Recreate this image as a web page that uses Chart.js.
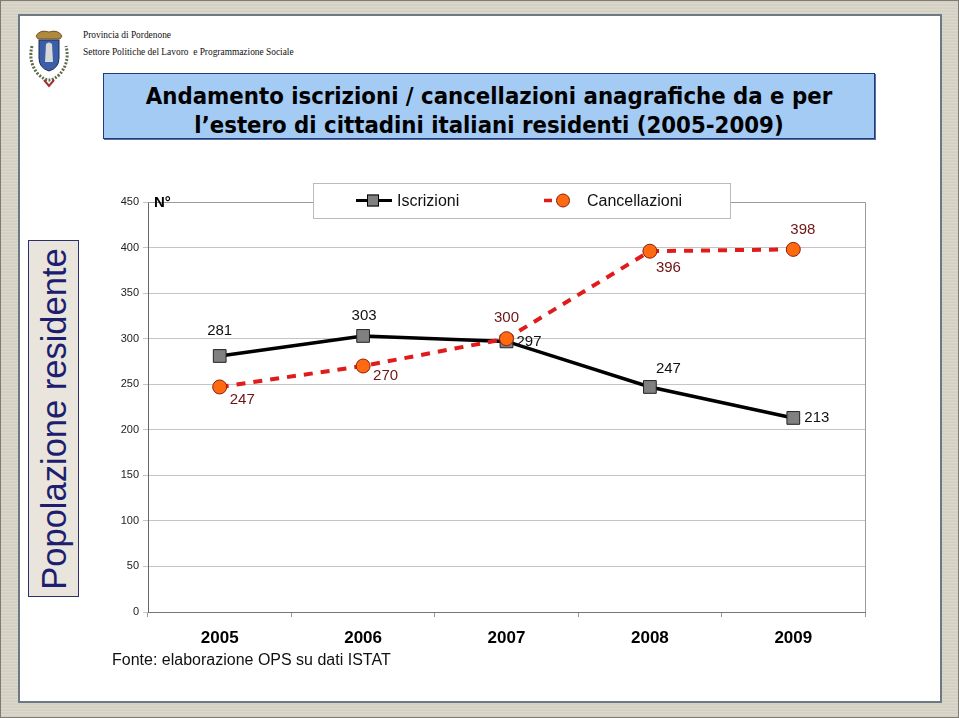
<!DOCTYPE html>
<html><head><meta charset="utf-8">
<script src="https://cdn.jsdelivr.net/npm/chart.js@4.4.1/dist/chart.umd.min.js"></script>
<style>
html,body{margin:0;padding:0;}
body{width:959px;height:718px;position:relative;overflow:hidden;
 background:repeating-linear-gradient(180deg,#dcd9cc 0px,#dcd9cc 1px,#cfccbf 2px,#d7d4c7 3px);}
#frame{position:absolute;left:0;top:0;width:957px;height:716px;border:1px solid #7c7c74;}
#panel{position:absolute;left:18px;top:14px;width:920px;height:685px;background:#fff;border:2px solid #6d7a86;}
.hdr{position:absolute;font-family:"Liberation Serif","DejaVu Serif",serif;font-size:9.4px;color:#111;white-space:nowrap;}
#title{position:absolute;left:103px;top:73px;width:772px;height:66px;background:#a4cbf4;border:1px solid #203a80;
 box-shadow:1px 1px 0 #5a6e9a;font-family:"DejaVu Sans Condensed","DejaVu Sans",sans-serif;font-weight:bold;font-size:23.7px;
 line-height:29px;text-align:center;color:#000;padding-top:8px;box-sizing:border-box;}
#ylab{position:absolute;left:28px;top:240px;width:51px;height:357px;background:#e9e5dc;border:1px solid #2c2f6e;box-sizing:border-box;}
#ylab span{position:absolute;left:50%;top:50%;transform:translate(-50%,-50%) rotate(-90deg);white-space:nowrap;
 font-family:"Liberation Sans",Arial,sans-serif;font-size:34.5px;color:#1e1e70;}
#wrap{position:absolute;left:90px;top:180px;width:800px;height:480px;}
#fonte{position:absolute;left:112px;top:651px;font-family:"Liberation Sans",Arial,sans-serif;font-size:16px;color:#111;white-space:nowrap;}
</style></head>
<body>
<div id="frame"></div>
<div id="panel"></div>
<svg style="position:absolute;left:24px;top:28px" width="50" height="62" viewBox="0 0 50 62">
 <path d="M12 8 Q16 1 25 4 Q34 1 38 8 L36 11 L14 11 Z" fill="#b08a3a" stroke="#5a4020" stroke-width="0.8"/>
 <path d="M15 12 H35 V30 Q35 40 25 43 Q15 40 15 30 Z" fill="#3a5fa8" stroke="#1c2c58" stroke-width="1"/>
 <path d="M22 16 Q25 13 28 16 L29 34 H21 Z" fill="#d8d8d8"/>
 <path d="M8 18 Q4 34 14 46 Q20 52 25 52 Q30 52 36 46 Q46 34 42 18" fill="none" stroke="#5d6d4a" stroke-width="3" stroke-dasharray="2,1.5"/>
 <path d="M20 52 L25 58 L30 52" fill="none" stroke="#a03030" stroke-width="2"/>
</svg>
<div class="hdr" style="left:83px;top:30px">Provincia di Pordenone</div>
<div class="hdr" style="left:83px;top:47px">Settore Politiche del Lavoro&nbsp; e Programmazione Sociale</div>
<div id="title">Andamento iscrizioni / cancellazioni anagrafiche da e per<br>l’estero di cittadini italiani residenti (2005-2009)</div>
<div id="ylab"><span>Popolazione residente</span></div>
<div id="wrap"><canvas id="c"></canvas></div>
<div id="fonte">Fonte: elaborazione OPS su dati ISTAT</div>
<script>
const categories = ['2005','2006','2007','2008','2009'];
const iscrizioni = [281, 303, 297, 247, 213];
const cancellazioni = [247, 270, 300, 396, 398];
const yTicks = [0,50,100,150,200,250,300,350,400,450];
const seriesNames = ['Iscrizioni','Cancellazioni'];

// label placement per point (style only)
const placeIsc = [[0,-25],[1,-20],[10,0,'left'],[6,-18,'left'],[11,0,'left']];
const placeCan = [[10,13,'left'],[10,10,'left'],[0,-21],[6,17,'left'],[-3,-20,'left']];

const labelPlugin = {
  id:'labels',
  afterDatasetsDraw(chart){
    const ctx = chart.ctx;
    ctx.save();
    ctx.font = '15px "Liberation Sans", Arial, sans-serif';
    ctx.textBaseline = 'middle';
    const sets = [[0,iscrizioni,placeIsc,'#111'],[1,cancellazioni,placeCan,'#6e1414']];
    sets.forEach(([di,vals,pl,col])=>{
      const meta = chart.getDatasetMeta(di);
      meta.data.forEach((pt,i)=>{
        const p = pl[i];
        ctx.fillStyle = col;
        ctx.textAlign = p[2] || 'center';
        ctx.fillText(String(vals[i]), pt.x + p[0], pt.y + p[1]);
      });
    });
    ctx.restore();
  }
};

const framePlugin = {
  id:'frame',
  beforeDatasetsDraw(chart){
    const {ctx, chartArea:a} = chart;
    ctx.save();
    ctx.strokeStyle = '#9a9a9a'; ctx.lineWidth = 1;
    ctx.beginPath();
    ctx.moveTo(a.left, a.top+0.5); ctx.lineTo(a.right+0.5, a.top+0.5); ctx.lineTo(a.right+0.5, a.bottom);
    ctx.stroke();
    ctx.fillStyle = '#000';
    ctx.font = 'bold 15px "Liberation Sans", Arial, sans-serif';
    ctx.textAlign='left'; ctx.textBaseline='middle';
    ctx.fillText('N°', a.left+6, a.top+1);
    ctx.restore();
  },
  afterDraw(chart){
    const {ctx, chartArea:a} = chart;
    ctx.save();
    const bx = a.left+165, by = a.top-19, bw = 417, bh = 35;
    ctx.fillStyle='#fff'; ctx.fillRect(bx,by,bw,bh);
    ctx.strokeStyle='#bbbbbb'; ctx.lineWidth=1; ctx.strokeRect(bx+0.5,by+0.5,bw,bh);
    const cy = by + bh/2;
    // Iscrizioni
    ctx.strokeStyle='#000'; ctx.lineWidth=3;
    ctx.beginPath(); ctx.moveTo(bx+43,cy); ctx.lineTo(bx+79,cy); ctx.stroke();
    ctx.fillStyle='#808080'; ctx.strokeStyle='#000'; ctx.lineWidth=1;
    ctx.fillRect(bx+54,cy-6,12,12); ctx.strokeRect(bx+54.5,cy-5.5,11,11);
    ctx.fillStyle='#111'; ctx.font='16px "Liberation Sans", Arial, sans-serif';
    ctx.textAlign='left'; ctx.textBaseline='middle';
    ctx.fillText(seriesNames[0], bx+84, cy+1);
    // Cancellazioni
    ctx.strokeStyle='#e01b1b'; ctx.lineWidth=3.5;
    ctx.beginPath(); ctx.moveTo(bx+231,cy); ctx.lineTo(bx+239,cy); ctx.stroke();
    ctx.fillStyle='#ff6a10'; ctx.strokeStyle='#8a1e10'; ctx.lineWidth=1;
    ctx.beginPath(); ctx.arc(bx+250,cy,6.5,0,Math.PI*2); ctx.fill(); ctx.stroke();
    ctx.fillStyle='#111';
    ctx.fillText(seriesNames[1], bx+274, cy+1);
    ctx.restore();
  }
};

new Chart(document.getElementById('c'), {
  type:'line',
  data:{
    labels:categories,
    datasets:[
      {label:seriesNames[0], data:iscrizioni, borderColor:'#000', borderWidth:3.5,
       pointStyle:'rect', pointRadius:9, pointBackgroundColor:'#808080', pointBorderColor:'#222', pointBorderWidth:1,
       tension:0, order:1},
      {label:seriesNames[1], data:cancellazioni, borderColor:'#e01b1b', borderWidth:4, borderDash:[9,8],
       pointStyle:'circle', pointRadius:7, pointBackgroundColor:'#ff6a10', pointBorderColor:'#8a1e10', pointBorderWidth:1,
       tension:0, order:0}
    ]
  },
  options:{
    responsive:true, maintainAspectRatio:false, animation:false,
    layout:{padding:{top:22,right:25,bottom:0,left:0}},
    plugins:{legend:{display:false}, tooltip:{enabled:false}},
    scales:{
      x:{offset:true,
        grid:{display:true, drawOnChartArea:false, offset:true, tickLength:5, color:'#999'},
        border:{color:'#777', width:1},
        ticks:{color:'#000', font:{family:'"Liberation Sans", Arial, sans-serif', size:17, weight:'bold'}, padding:11},
        afterFit(s){ s.height = 48; }
      },
      y:{min:0,max:450,
        afterBuildTicks(s){ s.ticks = yTicks.map(v=>({value:v})); },
        grid:{color:'#c4c4c4', tickLength:5, drawTicks:true},
        border:{color:'#666', width:1},
        ticks:{color:'#222', font:{family:'"Liberation Sans", Arial, sans-serif', size:11}, padding:4},
        afterFit(s){ s.width = 58; }
      }
    }
  },
  plugins:[framePlugin, labelPlugin]
});
</script>
</body></html>
